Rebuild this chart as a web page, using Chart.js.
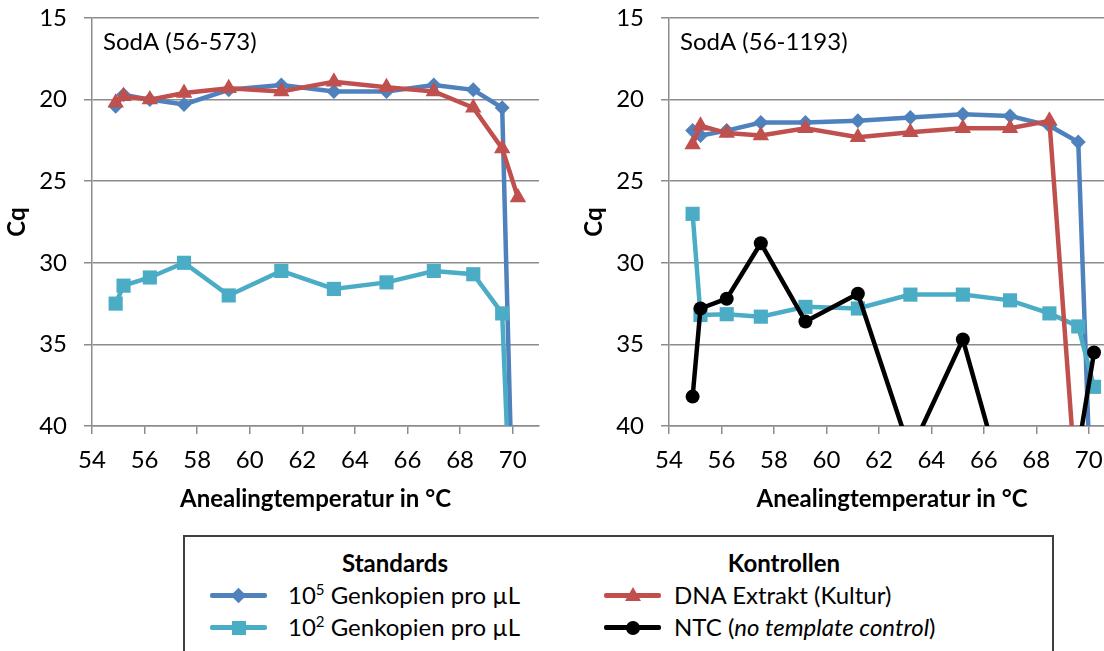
<!DOCTYPE html>
<html>
<head>
<meta charset="utf-8">
<script src="https://cdn.jsdelivr.net/npm/chart.js@4.4.1/dist/chart.umd.min.js"></script>
<style>
  html, body { margin: 0; padding: 0; background: #fff; overflow: hidden; width: 1104px; height: 651px; }
  body { position: relative; font-family: Lato, "Open Sans", sans-serif; color: #000; }
  canvas { position: absolute; top: 0; }
  #leftChart { left: 0; }
  #rightChart { left: 577px; }
  .legend { position: absolute; left: 183px; top: 535px; width: 867px; height: 140px; border: 2px solid #404040; }
  .head { position: absolute; font-weight: bold; font-size: 24px; line-height: 30px; text-align: center; width: 200px; }
  .item { position: absolute; font-size: 24px; line-height: 30px; white-space: nowrap; }
  .item sup { font-size: 15px; vertical-align: 9px; line-height: 0; }
  .sample { position: absolute; height: 5px; width: 57px; border-radius: 2px; }
  .mark { position: absolute; left: 50%; top: 50%; }
</style>
</head>
<body>
<canvas id="leftChart" width="560" height="520"></canvas>
<canvas id="rightChart" width="560" height="520"></canvas>

<div class="legend"></div>
<div class="head" style="left:295px; top:548px;">Standards</div>
<div class="head" style="left:684px; top:548px;">Kontrollen</div>

<div class="sample" style="left:210px; top:593px; background:#4f81bd;"><div class="mark" style="width:11px; height:11px; margin:-5.5px 0 0 -5.5px; background:#4f81bd; transform:rotate(45deg);"></div></div>
<div class="item" style="left:288px; top:580px;">10<sup>5</sup> Genkopien pro µL</div>
<div class="sample" style="left:210px; top:625px; background:#4bacc6;"><div class="mark" style="width:14px; height:14px; margin:-7px 0 0 -7px; background:#4bacc6;"></div></div>
<div class="item" style="left:288px; top:612px;">10<sup>2</sup> Genkopien pro µL</div>

<div class="sample" style="left:604px; top:593px; background:#c0504d;"><div class="mark" style="width:0; height:0; margin:-9px 0 0 -8px; border-left:8px solid transparent; border-right:8px solid transparent; border-bottom:14px solid #c0504d;"></div></div>
<div class="item" style="left:674px; top:580px;">DNA Extrakt (Kultur)</div>
<div class="sample" style="left:604px; top:625px; background:#000;"><div class="mark" style="width:14px; height:14px; margin:-7px 0 0 -7px; background:#000; border-radius:50%;"></div></div>
<div class="item" style="left:674px; top:612px;">NTC (<i>no template control</i>)</div>

<script>
// annealing temperatures of the gradient (°C)
var temps = [54.9, 55.2, 56.2, 57.5, 59.2, 61.2, 63.2, 65.2, 67.0, 68.5, 69.6, 70.2];

// SodA (56-573), Cq values; values above 40 are off the scale
var left105 = [20.4, 19.7, 20.0, 20.3, 19.4, 19.1, 19.5, 19.5, 19.1, 19.4, 20.5, 58];
var left102 = [32.5, 31.4, 30.9, 30.0, 32.0, 30.5, 31.6, 31.2, 30.5, 30.7, 33.1, 57];
var leftDna = [20.2, 19.8, 20.0, 19.6, 19.3, 19.5, 18.9, 19.25, 19.5, 20.5, 23.0, 26.0];

// SodA (56-1193)
var right105 = [21.9, 22.2, 21.9, 21.4, 21.4, 21.3, 21.1, 20.9, 21.0, 21.6, 22.6, 50];
var right102 = [27.0, 33.2, 33.15, 33.3, 32.7, 32.8, 31.95, 31.95, 32.3, 33.1, 33.9, 37.6];
var rightDna = [22.75, 21.6, 22.05, 22.2, 21.75, 22.3, 22.0, 21.75, 21.75, 21.3, 45.5, 46];
var rightNtc = [38.2, 32.8, 32.2, 28.8, 33.6, 31.9, 41.6, 34.7, 45, 42, 41.4, 35.5];

var yTicks = [15, 20, 25, 30, 35, 40];

var gridColor = '#8c8c8c';
var fontFamily = 'Lato, "Open Sans", sans-serif';

var insetLabel = {
    id: 'insetLabel',
    afterDraw: function(chart, args, opts) {
        var ctx = chart.ctx;
        var area = chart.chartArea;
        ctx.save();
        ctx.font = '24px ' + fontFamily;
        ctx.fillStyle = '#000';
        ctx.textBaseline = 'alphabetic';
        ctx.fillText(opts.text, area.left + 11, area.top + 32);
        ctx.restore();
    }
};

function toPoints(values) {
    return temps.map(function(t, i) {
        return { x: t, y: values[i] };
    });
}

function createDataset(label, color, style, radius, values) {
    return {
        label: label,
        data: toPoints(values),
        borderColor: color,
        backgroundColor: color,
        borderWidth: 4.5,
        pointStyle: style,
        pointRadius: radius,
        pointBorderWidth: 0,
        pointBackgroundColor: color,
        tension: 0
    };
}

function createChart(canvasId, title, datasets, paddingRight) {
    return new Chart(document.getElementById(canvasId), {
        type: 'line',
        data: { datasets: datasets },
        plugins: [insetLabel],
        options: {
            responsive: false,
            animation: false,
            devicePixelRatio: 1,
            layout: { padding: { top: 18, left: 0, right: paddingRight, bottom: 0 } },
            plugins: {
                legend: { display: false },
                tooltip: { enabled: false },
                insetLabel: { text: title }
            },
            scales: {
                x: {
                    type: 'linear',
                    min: 54,
                    max: 71,
                    ticks: {
                        stepSize: 2,
                        includeBounds: false,
                        color: '#000',
                        padding: 12,
                        font: { family: fontFamily, size: 24 }
                    },
                    grid: { drawOnChartArea: false, tickLength: 8, color: gridColor, lineWidth: 1.5 },
                    border: { color: gridColor, width: 1.5 },
                    title: {
                        display: true,
                        text: 'Anealingtemperatur in °C',
                        color: '#000',
                        font: { family: fontFamily, size: 24, weight: 'bold' },
                        padding: { top: 0, bottom: 6 }
                    },
                    afterFit: function(scale) { scale.height = 94; }
                },
                y: {
                    type: 'linear',
                    min: yTicks[0],
                    max: yTicks[yTicks.length - 1],
                    reverse: true,
                    afterBuildTicks: function(scale) {
                        scale.ticks = yTicks.map(function(v) { return { value: v }; });
                    },
                    ticks: {
                        color: '#000',
                        padding: 17,
                        font: { family: fontFamily, size: 24 }
                    },
                    grid: { tickLength: 8, color: gridColor, lineWidth: 1.5 },
                    border: { color: gridColor, width: 1.5 },
                    title: {
                        display: true,
                        text: 'Cq',
                        color: '#000',
                        font: { family: fontFamily, size: 24, weight: 'bold' },
                        padding: { top: 3, bottom: 0 }
                    },
                    afterFit: function(scale) {
                        // keep the plot top fixed, tick padding should not push it down
                        scale.width = 92;
                        scale.paddingTop = 0;
                        scale.paddingBottom = 0;
                    }
                }
            }
        }
    });
}

// first dataset is drawn on top
createChart('leftChart', 'SodA (56-573)', [
    createDataset('DNA Extrakt (Kultur)', '#c0504d', 'triangle', 9.5, leftDna),
    createDataset('10^2 Genkopien pro µL', '#4bacc6', 'rect', 10, left102),
    createDataset('10^5 Genkopien pro µL', '#4f81bd', 'rectRot', 7.5, left105)
], 21);

createChart('rightChart', 'SodA (56-1193)', [
    createDataset('NTC (no template control)', '#000000', 'circle', 7, rightNtc),
    createDataset('DNA Extrakt (Kultur)', '#c0504d', 'triangle', 9.5, rightDna),
    createDataset('10^2 Genkopien pro µL', '#4bacc6', 'rect', 10, right102),
    createDataset('10^5 Genkopien pro µL', '#4f81bd', 'rectRot', 7.5, right105)
], 22);
</script>
</body>
</html>
